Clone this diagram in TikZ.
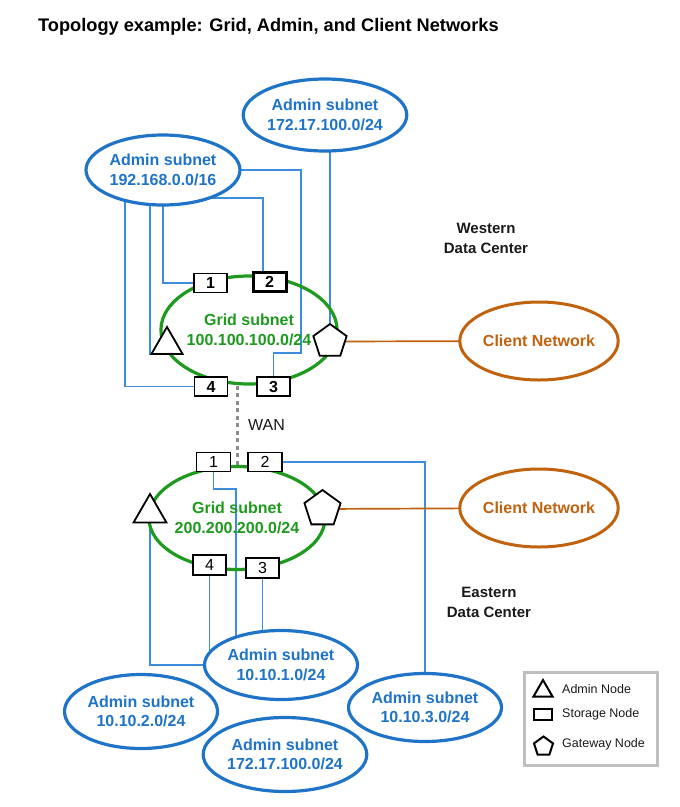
\documentclass[tikz,border=0pt]{standalone}
\usepackage{fontspec}
\setmainfont{Liberation Sans}
\usetikzlibrary{shapes.geometric}
\pgfdeclarelayer{canvas}
\pgfdeclarelayer{wires}
\pgfsetlayers{canvas,wires,main}

\definecolor{adminblue}{HTML}{1F74C8}
\definecolor{wireblue}{HTML}{3C8DDE}
\definecolor{gridgreen}{HTML}{1E9A1E}
\definecolor{clientorange}{HTML}{C0620E}
\definecolor{wangrey}{HTML}{8C8C8C}
\definecolor{framegrey}{HTML}{BFBFBF}
\definecolor{inkdark}{HTML}{1A1A1A}

\tikzset{
  netfont/.style={font=\bfseries\fontsize{16}{19.5}\selectfont},
  subnet/.style={ellipse, draw=adminblue, line width=3.2pt, fill=white,
    text=adminblue, netfont, align=center, inner sep=0pt,
    minimum width=153pt, minimum height=72pt},
  gridnet/.style={ellipse, draw=gridgreen, line width=3.2pt,
    text=gridgreen, netfont, align=center, inner sep=0pt},
  clientnet/.style={ellipse, draw=clientorange, line width=3pt, fill=white,
    text=clientorange, netfont, inner sep=0pt,
    minimum width=154pt, minimum height=78pt},
  storage/.style={rectangle, draw=black, line width=1.8pt, fill=white,
    minimum width=33pt, minimum height=19pt, inner sep=0pt,
    font=\bfseries\fontsize{16}{16}\selectfont},
  storagelite/.style={storage, line width=1.6pt, font=\fontsize{16}{16}\selectfont},
  adminnode/.style={regular polygon, regular polygon sides=3, draw=black,
    line width=1.8pt, fill=white, inner sep=0pt, minimum size=36pt},
  gatewaynode/.style={regular polygon, regular polygon sides=5, draw=black,
    line width=1.8pt, fill=white, inner sep=0pt, minimum size=35pt},
  wire/.style={draw=wireblue, line width=1.8pt},
  clientlink/.style={draw=clientorange, line width=1.7pt},
  wanlink/.style={draw=wangrey, line width=3pt, dash pattern=on 4pt off 3.5pt},
  sitelabel/.style={align=center, text=inkdark,
    font=\bfseries\fontsize{15}{20}\selectfont},
  legendtext/.style={anchor=west, text=inkdark, inner sep=0pt,
    font=\fontsize{12.5}{12.5}\selectfont},
}

\begin{document}
\begin{tikzpicture}[x=1pt, y=-1pt]
\begin{pgfonlayer}{canvas}
  \fill[white] (0,0) rectangle (680,807);
\end{pgfonlayer}
\useasboundingbox (0,0) rectangle (680,807);

% Title
\node[anchor=base west, inner sep=0pt, text=black,
  font=\bfseries\fontsize{18.2}{20}\selectfont] (title) at (38,31)
  {Topology example: Grid, Admin, and Client Networks};

% ---------------- Western data center ----------------
\node[subnet] (aTR) at (325,115) {Admin subnet\\172.17.100.0/24};
\node[subnet, minimum width=154pt, minimum height=70pt] (aTL) at (163,170)
  {Admin subnet\\192.168.0.0/16};
\node[gridnet, minimum width=157pt, minimum height=108pt] (gW) at (249,330)
  {Grid subnet\\100.100.100.0/24};
\node[storage] (w1) at (210.5,283) {1};
\node[storage, line width=3pt, minimum width=33pt] (w2) at (269.5,282) {2};
\node[storage] (w3) at (273.5,386.5) {3};
\node[storage] (w4) at (211,386.5) {4};
\node[adminnode] (wA) at (167,345) {};
\node[gatewaynode] (wG) at (330,341.5) {};
\node[clientnet] (cW) at (539,341) {Client Network};
\node[sitelabel] (siteW) at (486,238) {Western\\Data Center};

% ---------------- Eastern data center ----------------
\node[gridnet, minimum width=169pt, minimum height=103pt] (gE) at (237,518)
  {Grid subnet\\200.200.200.0/24};
\node[storagelite, minimum width=34pt] (e1) at (213.5,462) {1};
\node[storagelite, minimum width=34pt] (e2) at (265,462) {2};
\node[storagelite, minimum height=20pt] (e3) at (262.5,568) {3};
\node[storagelite, minimum height=20pt] (e4) at (209.5,565) {4};
\node[adminnode, minimum size=38pt] (eA) at (150,513) {};
\node[gatewaynode, minimum size=38pt] (eG) at (322.5,509) {};
\node[clientnet] (cE) at (539,508) {Client Network};
\node[sitelabel] (siteE) at (489,602) {Eastern\\Data Center};

\node[subnet, minimum height=69pt] (a1) at (281,665) {Admin subnet\\10.10.1.0/24};
\node[subnet, minimum height=74pt] (a2) at (141,711.5) {Admin subnet\\10.10.2.0/24};
\node[subnet, minimum height=68pt] (a3) at (425,707.5) {Admin subnet\\10.10.3.0/24};
\node[subnet, minimum height=74pt] (a4) at (285,754.5) {Admin subnet\\172.17.100.0/24};

% WAN label
\node[anchor=west, inner sep=0pt, text=inkdark,
  font=\fontsize{16}{16}\selectfont] (wanlabel) at (248,425) {WAN};

% ---------------- Legend ----------------
\node[draw=framegrey, line width=3pt, minimum width=133pt, minimum height=93pt,
  inner sep=0pt] (legend) at (590.5,718.5) {};
\node[adminnode, line width=2pt, minimum size=22pt] (lgA) at (543,691) {};
\node[storage, line width=2pt, minimum width=18pt, minimum height=11pt] (lgS) at (542.5,714) {};
\node[gatewaynode, line width=2pt, minimum size=20pt] (lgG) at (543.5,746.5) {};
\node[legendtext] (lgAt) at (562,689) {Admin Node};
\node[legendtext] (lgSt) at (562,714) {Storage Node};
\node[legendtext] (lgGt) at (562,744) {Gateway Node};

% ---------------- Connectors (drawn beneath the nodes) ----------------
\begin{pgfonlayer}{wires}
  % western admin wiring
  \draw[wire] (wG.corner 1) -- (wG.corner 1 |- aTR.center);
  \draw[wire] (aTL.center) |- (w1.west);
  \draw[wire] (wA.corner 2) -- (wA.corner 2 |- aTL.center);
  \draw[wire] (w4.west) -| ([xshift=-38pt]aTL.center);
  \draw[wire] ([xshift=-6.5pt]w2.north) |- ([yshift=-28pt]aTL.center);
  \draw[wire] (aTL.center) -- (301,170) -- (301,353) -| (w3.north);
  % eastern admin wiring
  \draw[wire] (e2.east) -| (a3.center);
  \draw[wire] (e1.south) -- ++(0,17) -| ([xshift=-45pt]a1.center);
  \draw[wire] (e4.south) -- (e4.south |- a1.center);
  \draw[wire] (e3.south) -- (e3.south |- a1.center);
  \draw[wire] (eA.south) |- (a1.center);
  % client networks
  \draw[clientlink] (wG.center) -- (cW.center);
  \draw[clientlink] (eG.center) -- (cE.center);
  % WAN between the two grids
  \draw[wanlink] (gE.north) -- (gE.north |- gW.south);
\end{pgfonlayer}
\end{tikzpicture}
\end{document}
